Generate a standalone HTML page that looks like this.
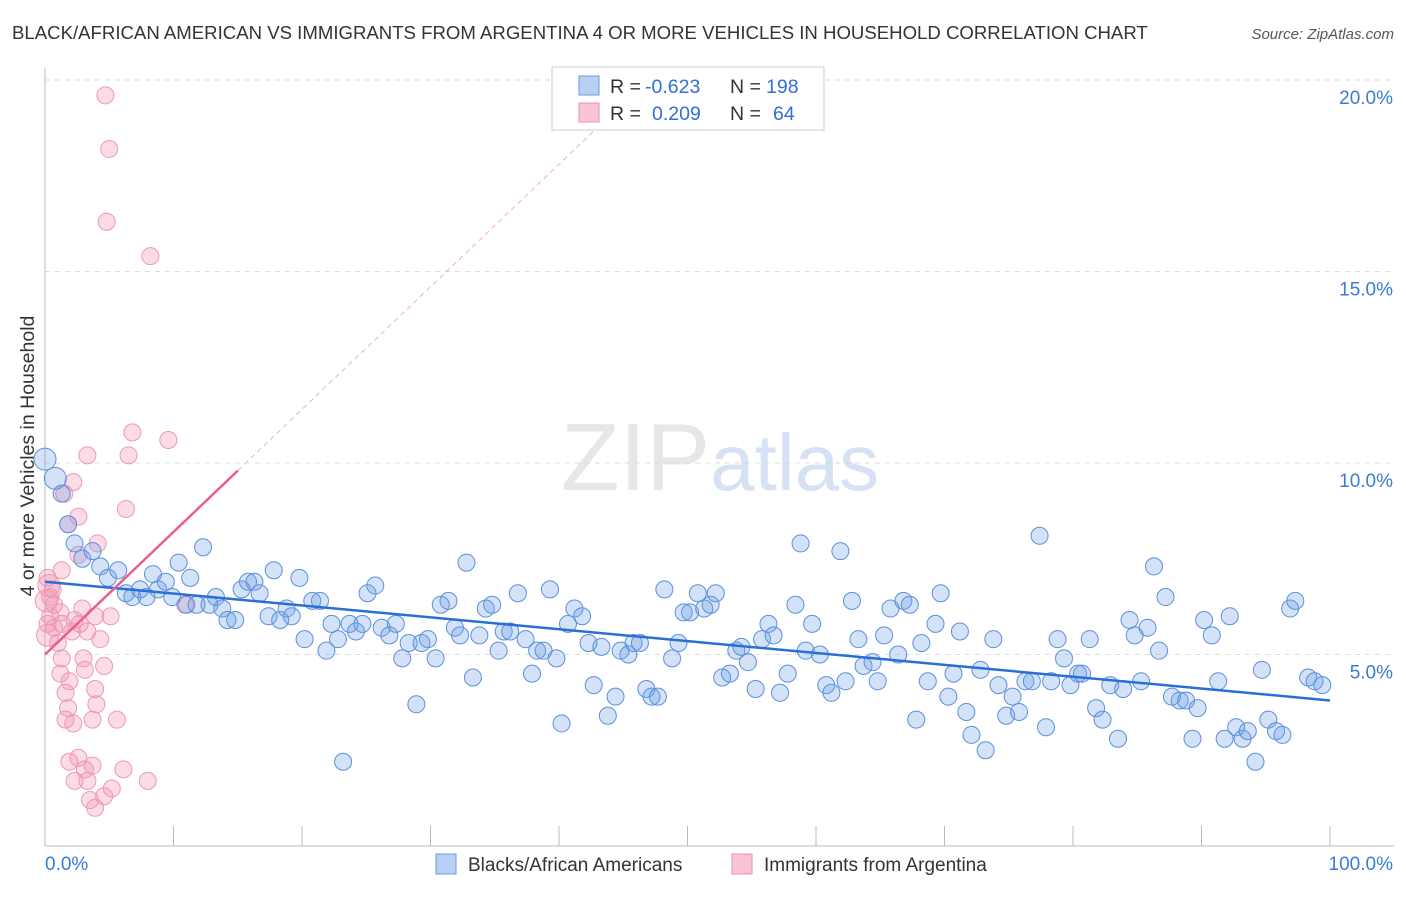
<!DOCTYPE html>
<html><head><meta charset="utf-8"><style>
body{margin:0;background:#fff;font-family:"Liberation Sans",sans-serif;}
svg text{font-family:"Liberation Sans",sans-serif;}
</style></head><body>
<svg id="chart" width="1406" height="892" viewBox="0 0 1406 892" xmlns="http://www.w3.org/2000/svg">
<text x="12" y="39" font-size="18.6" fill="#333">BLACK/AFRICAN AMERICAN VS IMMIGRANTS FROM ARGENTINA 4 OR MORE VEHICLES IN HOUSEHOLD CORRELATION CHART</text>
<text x="1394" y="39" font-size="15" fill="#555" text-anchor="end" font-style="italic">Source: ZipAtlas.com</text>
<text transform="translate(34,456) rotate(-90)" font-size="19.5" fill="#333" text-anchor="middle">4 or more Vehicles in Household</text>
<g id="grid"></g>
<text x="720" y="490" font-size="96" text-anchor="middle" fill="#ddd" font-family="Liberation Serif" opacity="0.7">ZIP<tspan fill="#c5d6ee" font-family="Liberation Sans" font-size="80">atlas</tspan></text>
<line x1="45" y1="68" x2="45" y2="846" stroke="#bbb"/>
<line x1="45" y1="846" x2="1394" y2="846" stroke="#bbb"/>
<g id="ticks"></g>
<g id="pink"></g><g id="blue"></g><g id="lines"></g>
<g>
<rect x="552" y="67" width="272" height="63" fill="#fff" stroke="#ccc"/>
<rect x="579" y="76" width="20" height="19" fill="#b8d0f3" stroke="#6b9be0"/>
<rect x="579" y="103" width="20" height="19" fill="#f9c4d3" stroke="#ec93ad"/>
<text x="610" y="93" font-size="19.5" fill="#333">R =</text>
<text x="645" y="93" font-size="19.5" fill="#2f6fd6">-0.623</text>
<text x="730" y="93" font-size="19.5" fill="#333">N =</text>
<text x="766" y="93" font-size="19.5" fill="#2f6fd6">198</text>
<text x="610" y="120" font-size="19.5" fill="#333">R =</text>
<text x="652" y="120" font-size="19.5" fill="#2f6fd6">0.209</text>
<text x="730" y="120" font-size="19.5" fill="#333">N =</text>
<text x="773" y="120" font-size="19.5" fill="#2f6fd6">64</text>
</g>
<g>
<rect x="436" y="854" width="20" height="20" fill="#b8d0f3" stroke="#6b9be0"/>
<text x="468" y="871" font-size="19" fill="#333">Blacks/African Americans</text>
<rect x="732" y="854" width="20" height="20" fill="#f9c4d3" stroke="#ec93ad"/>
<text x="764" y="871" font-size="19" fill="#333">Immigrants from Argentina</text>
</g>
</svg>
<script>
const yTicks=[5,10,15,20];
const yTickLabels=["5.0%","10.0%","15.0%","20.0%"];
const xTickVals=[0,10,20,30,40,50,60,70,80,90,100];
const blueX=[0,0.8,1.3,1.8,2.3,2.9,3.7,4.3,4.9,5.7,6.3,6.8,7.4,7.9,8.4,8.8,9.4,9.9,10.4,11.0,11.3,11.8,12.3,12.8,13.3,13.8,14.2,14.8,15.3,15.8,16.3,16.7,17.4,17.8,18.3,18.8,19.2,19.8,20.2,20.8,21.4,21.9,22.3,22.8,23.2,23.7,24.2,24.7,25.1,25.7,26.2,26.8,27.3,27.8,28.3,28.9,29.3,29.8,30.4,30.8,31.4,31.9,32.3,32.8,33.3,33.8,34.3,34.8,35.3,35.7,36.2,36.8,37.4,37.9,38.3,38.8,39.3,39.8,40.2,40.7,41.2,41.8,42.3,42.7,43.3,43.8,44.4,44.8,45.4,45.8,46.3,46.8,47.2,47.7,48.2,48.8,49.3,49.7,50.2,50.8,51.3,51.8,52.2,52.7,53.3,53.8,54.2,54.7,55.3,55.8,56.3,56.7,57.2,57.8,58.4,58.8,59.2,59.7,60.3,60.8,61.2,61.9,62.3,62.8,63.3,63.7,64.4,64.8,65.3,65.8,66.4,66.8,67.3,67.8,68.2,68.7,69.3,69.7,70.3,70.7,71.2,71.7,72.1,72.8,73.2,73.8,74.2,74.8,75.3,75.8,76.3,76.8,77.4,77.9,78.3,78.8,79.3,79.8,80.4,80.7,81.3,81.8,82.3,82.9,83.5,83.9,84.4,84.8,85.3,85.8,86.3,86.7,87.2,87.7,88.3,88.8,89.3,89.7,90.2,90.8,91.3,91.8,92.2,92.7,93.2,93.6,94.2,94.7,95.2,95.8,96.3,96.9,97.3,98.3,98.8,99.4];
const blueY=[10.1,9.6,9.2,8.4,7.9,7.5,7.7,7.3,7.0,7.2,6.6,6.5,6.7,6.5,7.1,6.7,6.9,6.5,7.4,6.3,7.0,6.3,7.8,6.3,6.5,6.2,5.9,5.9,6.7,6.9,6.9,6.6,6.0,7.2,5.9,6.2,6.0,7.0,5.4,6.4,6.4,5.1,5.8,5.4,2.2,5.8,5.6,5.8,6.6,6.8,5.7,5.5,5.8,4.9,5.3,3.7,5.3,5.4,4.9,6.3,6.4,5.7,5.5,7.4,4.4,5.5,6.2,6.3,5.1,5.6,5.6,6.6,5.4,4.5,5.1,5.1,6.7,4.9,3.2,5.8,6.2,6.0,5.3,4.2,5.2,3.4,3.9,5.1,5.0,5.3,5.3,4.1,3.9,3.9,6.7,4.9,5.3,6.1,6.1,6.6,6.2,6.3,6.6,4.4,4.5,5.1,5.2,4.8,4.1,5.4,5.8,5.5,4.0,4.5,6.3,7.9,5.1,5.8,5.0,4.2,4.0,7.7,4.3,6.4,5.4,4.7,4.8,4.3,5.5,6.2,5.0,6.4,6.3,3.3,5.3,4.3,5.8,6.6,3.9,4.5,5.6,3.5,2.9,4.6,2.5,5.4,4.2,3.4,3.9,3.5,4.3,4.3,8.1,3.1,4.3,5.4,4.9,4.2,4.5,4.5,5.4,3.6,3.3,4.2,2.8,4.1,5.9,5.5,4.3,5.7,7.3,5.1,6.5,3.9,3.8,3.8,2.8,3.6,5.9,5.5,4.3,2.8,6.0,3.1,2.8,3.0,2.2,4.6,3.3,3.0,2.9,6.2,6.4,4.4,4.3,4.2];
const pinkX=[4.7,5.0,4.8,8.2,6.8,9.6,3.3,6.5,2.2,1.5,2.6,6.3,1.8,4.1,2.6,1.3,0.2,0.6,0.4,0.7,1.2,0.4,2.9,0.2,0.7,1.3,2.3,2.7,3.9,5.1,2.1,3.3,1.0,4.3,1.3,3.0,4.6,1.2,3.1,1.9,1.6,3.9,1.8,4.0,1.6,2.2,3.7,5.6,2.6,1.9,3.1,3.7,6.1,2.3,3.3,8.0,5.2,4.6,3.5,3.9,10.9,0.2,0.1,0.3];
const pinkY=[19.6,18.2,16.3,15.4,10.8,10.6,10.2,10.2,9.5,9.2,8.6,8.8,8.4,7.9,7.6,7.2,7.0,6.7,6.5,6.3,6.1,6.0,6.2,5.8,5.7,5.8,5.9,5.8,6.0,6.0,5.6,5.6,5.3,5.4,4.9,4.9,4.7,4.5,4.6,4.3,4.0,4.1,3.6,3.7,3.3,3.2,3.3,3.3,2.3,2.2,2.0,2.1,2.0,1.7,1.7,1.7,1.5,1.3,1.2,1.0,6.3,5.5,6.4,6.8];
const blueFit=[6.9,3.8];
const pinkFit=[5.0,9.8];
const pinkFitEnd=15;

const X=v=>45+v*12.85, Y=v=>846-v*38.3;
const NS="http://www.w3.org/2000/svg";
function mk(tag,parent,attrs){const e=document.createElementNS(NS,tag);for(const k in attrs)e.setAttribute(k,attrs[k]);document.getElementById(parent).appendChild(e);return e;}
yTicks.forEach((t,i)=>{
 const g=mk('line','grid',{x1:45,x2:1394,y1:Y(t),y2:Y(t),stroke:'#ddd','stroke-dasharray':'5,5'});
 
 
 const l=mk('text','ticks',{x:1393,y:Y(t)+24,'font-size':19,fill:'#3a7bd5','text-anchor':'end'});
 l.textContent=yTickLabels[i];
 
 
});
xTickVals.forEach(t=>{
 const e=mk('line','ticks',{x1:X(t),x2:X(t),y1:826,y2:846,stroke:'#bbb'});
 
 
});
const x0=mk('text','ticks',{x:45,y:870,'font-size':19,fill:'#3a7bd5'});x0.textContent='0.0%';


const x1=mk('text','ticks',{x:1393,y:870,'font-size':19,fill:'#3a7bd5','text-anchor':'end'});x1.textContent='100.0%';


pinkX.forEach((v,i)=>{
 const c=mk('circle','pink',{cx:X(v),cy:Y(pinkY[i]),r:i>=61?11:8.5,fill:'rgba(242,150,178,0.33)',stroke:'#ec9ab2','stroke-width':1});
 
 
});
blueX.forEach((v,i)=>{
 const c=mk('circle','blue',{cx:X(v),cy:Y(blueY[i]),r:i<2?11:8.5,fill:'rgba(110,160,230,0.3)',stroke:'#5b90dc','stroke-width':1});
 
 
});
const bl=mk('line','lines',{x1:X(0),y1:Y(blueFit[0]),x2:X(100),y2:Y(blueFit[1]),stroke:'#2a6fd6','stroke-width':2.5});


const pl=mk('line','lines',{x1:X(0),y1:Y(pinkFit[0]),x2:X(pinkFitEnd),y2:Y(pinkFit[1]),stroke:'#e8608a','stroke-width':2.5});


const slope=(pinkFit[1]-pinkFit[0])/pinkFitEnd, xe=43;
const pd=mk('line','lines',{x1:X(pinkFitEnd),y1:Y(pinkFit[1]),x2:X(xe),y2:Y(pinkFit[0]+slope*xe),stroke:'#eab0c2','stroke-width':1,'stroke-dasharray':'5,4'});


</script>
</body></html>
